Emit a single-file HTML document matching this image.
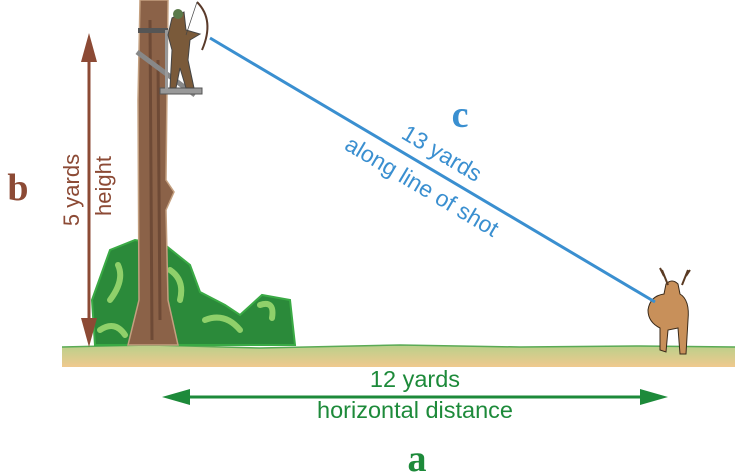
<!DOCTYPE html>
<html><head><meta charset="utf-8"><style>html,body{margin:0;padding:0;background:#fff}svg{display:block}</style></head><body>
<svg width="740" height="475" viewBox="0 0 740 475" xmlns="http://www.w3.org/2000/svg" font-family="Liberation Sans, sans-serif">
<defs>
<linearGradient id="g" x1="0" y1="0" x2="0" y2="1"><stop offset="0" stop-color="#b9d08a"/><stop offset="1" stop-color="#f0c98e"/></linearGradient>
</defs>
<path d="M62 347 L150 345 L260 348 L400 345 L520 347 L640 346 L735 347 L735 367 L62 367 Z" fill="url(#g)"/>
<path d="M62 347 L150 345 L260 348 L400 345 L520 347 L640 346 L735 347" stroke="#5aaa55" stroke-width="1.5" fill="none"/>
<path d="M92 300 L110 250 L135 240 L165 245 L190 265 L200 292 L225 305 L240 315 L262 295 L290 300 L295 345 L95 345 Z" fill="#2b8a3a" stroke="#3aaa45" stroke-width="2"/>
<path d="M110 300 Q125 280 118 265 M170 270 Q185 280 180 300 M205 320 Q225 312 240 330 M260 305 Q275 300 272 318 M100 330 Q115 320 125 335" stroke="#8fd06a" stroke-width="6" fill="none" stroke-linecap="round"/>
<path d="M140 0 L168 0 L166 180 L174 192 L166 210 L168 300 L178 345 L128 345 L139 300 L138 100 Z" fill="#8b6248" stroke="#c4a080" stroke-width="1.5"/>
<path d="M150 20 L152 340 M158 60 L160 320" stroke="#6e4a36" stroke-width="3" fill="none"/>
<rect x="138" y="28" width="30" height="5" fill="#555"/>
<line x1="137" y1="52" x2="195" y2="95" stroke="#888" stroke-width="5"/>
<rect x="160" y="88" width="42" height="6" fill="#999" stroke="#555"/>
<rect x="165" y="30" width="3" height="60" fill="#999"/>
<path d="M172 18 L184 12 L186 30 L200 34 L190 40 L188 60 L194 88 L186 88 L180 68 L176 88 L170 88 L172 50 L168 35 Z" fill="#7a5a3a" stroke="#444" stroke-width="1"/>
<circle cx="178" cy="14" r="5" fill="#5a7a4a"/>
<path d="M197 2 Q215 20 202 50" stroke="#5a3a2a" stroke-width="2" fill="none"/>
<line x1="197" y1="2" x2="186" y2="35" stroke="#444" stroke-width="0.7"/>
<!-- deer -->
<path d="M648 310 Q650 296 664 294 L666 284 Q672 278 678 284 L680 294 Q690 300 688 320 L686 354 L680 354 L678 328 L668 330 L666 352 L660 350 L660 328 Q648 322 648 310 Z" fill="#c8905a" stroke="#3a2a1a" stroke-width="1"/>
<path d="M668 285 L662 270 M664 276 L660 268 M682 285 L688 270 M686 276 L690 270" stroke="#5a3a22" stroke-width="2" fill="none"/>
<line x1="210" y1="38" x2="655" y2="302" stroke="#3a8fd0" stroke-width="3"/>
<text x="460" y="127" font-family="Liberation Serif, serif" font-weight="bold" font-size="38" fill="#3a8fd0" text-anchor="middle">c</text>
<g fill="#3a8fd0" font-size="23" text-anchor="middle">
<text transform="translate(438,160) rotate(30.7)">13 yards</text>
<text transform="translate(418,193) rotate(30.7)">along line of shot</text>
</g>
<line x1="89" y1="55" x2="89" y2="325" stroke="#8c4a35" stroke-width="3"/>
<polygon points="89,33 81,62 97,62" fill="#8c4a35"/>
<polygon points="89,347 81,318 97,318" fill="#8c4a35"/>
<text x="18" y="200" font-family="Liberation Serif, serif" font-weight="bold" font-size="38" fill="#8c4a35" text-anchor="middle">b</text>
<g fill="#8c4a35" font-size="22" text-anchor="middle">
<text transform="translate(79,190) rotate(-90)">5 yards</text>
<text transform="translate(111,186) rotate(-90)">height</text>
</g>
<line x1="185" y1="397" x2="645" y2="397" stroke="#1d8a3a" stroke-width="3"/>
<polygon points="162,397 190,389 190,405" fill="#1d8a3a"/>
<polygon points="668,397 640,389 640,405" fill="#1d8a3a"/>
<text x="415" y="387" fill="#1d8a3a" font-size="23.5" text-anchor="middle">12 yards</text>
<text x="415" y="418" fill="#1d8a3a" font-size="23.5" text-anchor="middle">horizontal distance</text>
<text x="417" y="471" font-family="Liberation Serif, serif" font-weight="bold" font-size="38" fill="#1d8a3a" text-anchor="middle">a</text>
</svg>
</body></html>
